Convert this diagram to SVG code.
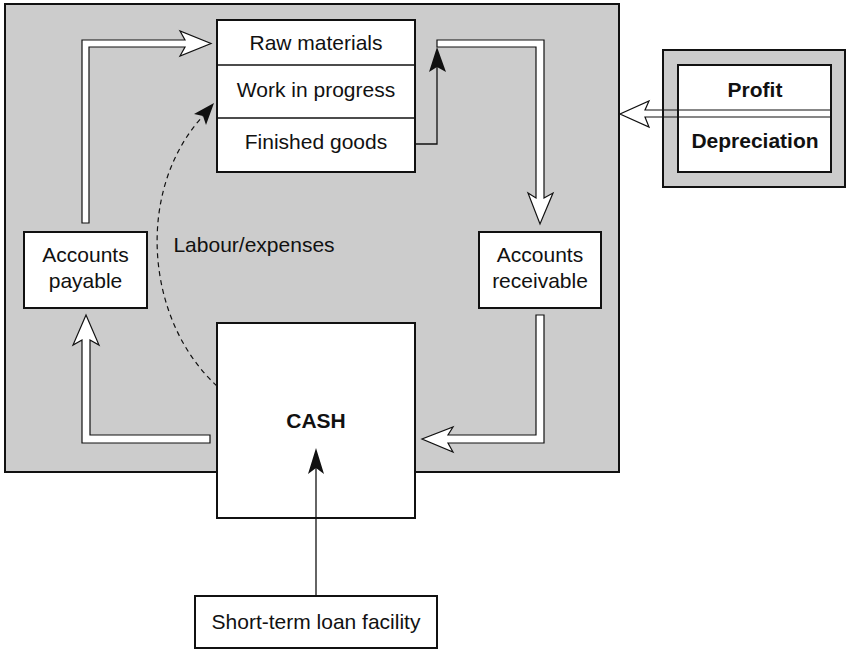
<svg xmlns="http://www.w3.org/2000/svg" width="846" height="650" viewBox="0 0 846 650">
<style>
text{font-family:"Liberation Sans",Arial,sans-serif;font-size:21px;fill:#111;text-anchor:middle}
.b{font-weight:bold}
.box{fill:#fff;stroke:#111;stroke-width:2}
.gray{fill:#cccccc;stroke:#111;stroke-width:2}
.hollow{fill:#fff;stroke:#111;stroke-width:1.2;stroke-linejoin:miter}
.thin{fill:none;stroke:#111;stroke-width:1.3}
.solid{fill:#111;stroke:none}
</style>
<rect id="main-area" class="gray" x="5" y="4" width="614" height="468"/>
<g id="connectors">
<polygon class="hollow" points="82,223 82,40 185,40 180,31 211,43.5 180,56 185,47 89,47 89,223"/>
<polyline class="thin" points="415,144 437,144 437,66"/>
<polygon class="solid" points="437,47 446,72 437,67 429,72"/>
<polygon class="hollow" points="437,40 544,40 544,198 553,193 540,224 528,193 536,198 536,47 437,47"/>
<polygon class="hollow" points="536,315 544,315 544,443 448,443 453,452 422,439 453,427 448,435 536,435"/>
<polygon class="hollow" points="210,435 90,435 90,340 99,345 86,315 73,345 82,340 82,443 210,443"/>
<path d="M217,386 C145,320 135,190 203,116" fill="none" stroke="#111" stroke-width="1.2" stroke-dasharray="5,4"/>
<polygon class="solid" points="214,103 206,125 203,116 194,114"/>
<line class="thin" x1="316" y1="596" x2="316" y2="468"/>
<polygon class="solid" points="316,448 324,474 316,468 308,474"/>
</g>
<g id="stock">
<rect class="box" x="217" y="20" width="198" height="152"/>
<line x1="217" y1="65" x2="415" y2="65" stroke="#111" stroke-width="1.3"/>
<line x1="217" y1="118" x2="415" y2="118" stroke="#111" stroke-width="1.3"/>
<text x="316" y="50">Raw materials</text>
<text x="316" y="97">Work in progress</text>
<text x="316" y="149">Finished goods</text>
</g>
<g id="accounts-payable">
<rect class="box" x="24" y="232" width="123" height="76"/>
<text x="85.5" y="262">Accounts</text>
<text x="85.5" y="288">payable</text>
</g>
<g id="accounts-receivable">
<rect class="box" x="479" y="232" width="122" height="76"/>
<text x="540" y="262">Accounts</text>
<text x="540" y="288">receivable</text>
</g>
<g id="cash">
<rect class="box" x="217" y="323" width="198" height="195"/>
<text class="b" x="316" y="428">CASH</text>
</g>
<g id="cash-arrow-overlay">
<line class="thin" x1="316" y1="518" x2="316" y2="468"/>
<polygon class="solid" points="316,448 324,474 316,468 308,474"/>
</g>
<g id="loan">
<rect class="box" x="195" y="596" width="242" height="52"/>
<text x="316" y="629">Short-term loan facility</text>
</g>
<g id="profit-depreciation">
<rect x="663" y="50" width="182" height="137" fill="#cccccc"/>
<rect x="678" y="65" width="153" height="107" fill="#fff"/>
<polygon class="hollow" points="663,110 645,110 649,101 620,114 649,127 645,117 663,117"/>
<rect x="663" y="110" width="15" height="7" fill="#cccccc"/>
<line x1="663" y1="110" x2="831" y2="110" stroke="#111" stroke-width="1.2"/>
<line x1="663" y1="117" x2="831" y2="117" stroke="#111" stroke-width="1.2"/>
<rect x="663" y="50" width="182" height="137" fill="none" stroke="#111" stroke-width="2"/>
<rect x="678" y="65" width="153" height="107" fill="none" stroke="#111" stroke-width="2"/>
<text class="b" x="755" y="97">Profit</text>
<text class="b" x="755" y="148">Depreciation</text>
</g>
<text x="254" y="252">Labour/expenses</text>
</svg>
